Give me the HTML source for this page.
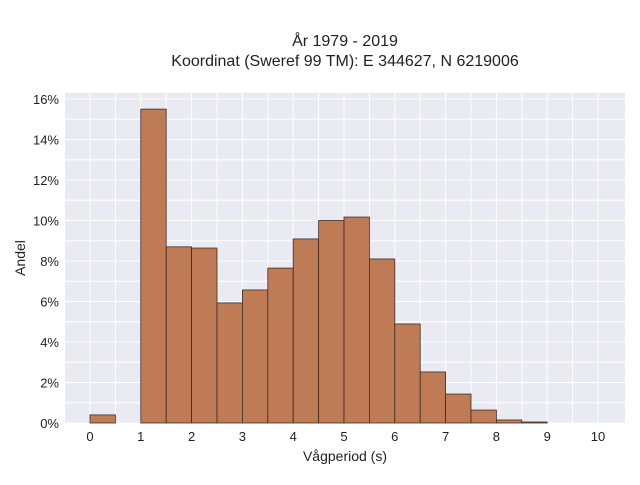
<!DOCTYPE html>
<html><head><meta charset="utf-8"><style>
body{margin:0;background:#fff;font-family:"Liberation Sans",sans-serif}
</style></head><body>
<svg width="640" height="480" xmlns="http://www.w3.org/2000/svg">
<rect width="640" height="480" fill="#fff"/>
<text x="345" y="46" text-anchor="middle" font-size="16" fill="#222">År 1979 - 2019</text>
<text x="345" y="66" text-anchor="middle" font-size="16" fill="#222">Koordinat (Sweref 99 TM): E 344627, N 6219006</text>
<rect x="65" y="93" width="560" height="330" fill="#eaeaf2"/>
<g id="grid"></g><g id="bars"></g><g id="ticks"></g>
<text x="345" y="461" text-anchor="middle" font-size="14" fill="#222">Vågperiod (s)</text>
<text x="25" y="258" text-anchor="middle" font-size="14" fill="#222" transform="rotate(-90 25 258)">Andel</text>
</svg>
<script>
const binStarts=[0,0.5,1,1.5,2,2.5,3,3.5,4,4.5,5,5.5,6,6.5,7,7.5,8,8.5];
const shares=[0.4,0,15.5,8.7,8.64,5.93,6.57,7.65,9.09,10.0,10.17,8.1,4.89,2.52,1.43,0.64,0.15,0.05];
const xTicks=[0,1,2,3,4,5,6,7,8,9,10];
const yTicks=[0,2,4,6,8,10,12,14,16];
const binWidth=0.5;
const X=v=>90+v*50.8, Y=v=>423-v*20.25;
const ns="http://www.w3.org/2000/svg";
function mk(t,a,p){const e=document.createElementNS(ns,t);for(const k in a)e.setAttribute(k,a[k]);p.appendChild(e);return e;}
const g=document.getElementById('grid'),b=document.getElementById('bars'),tk=document.getElementById('ticks');
for(let v=0;v<=10;v+=0.5){const l=mk('line',{x1:X(v),x2:X(v),y1:93,y2:423,stroke:'#fff','stroke-width':1},g);

}
for(let v=0;v<=16;v+=1){const l=mk('line',{x1:65,x2:625,y1:Y(v),y2:Y(v),stroke:'#fff','stroke-width':1},g);

}
binStarts.forEach((s,i)=>{if(shares[i]<=0)return;const r=mk('rect',{x:X(s),y:Y(shares[i]),width:X(s+binWidth)-X(s),height:Y(0)-Y(shares[i]),fill:'#bf7b56',stroke:'#3d2e28','stroke-width':0.8},b);

});
xTicks.forEach(v=>{const t=mk('text',{x:X(v),y:441,'text-anchor':'middle','font-size':13,fill:'#222'},tk);t.textContent=v;

});
yTicks.forEach(v=>{const t=mk('text',{x:59,y:Y(v)+5,'text-anchor':'end','font-size':13,fill:'#222'},tk);t.textContent=v+'%';

});
</script>
</body></html>
